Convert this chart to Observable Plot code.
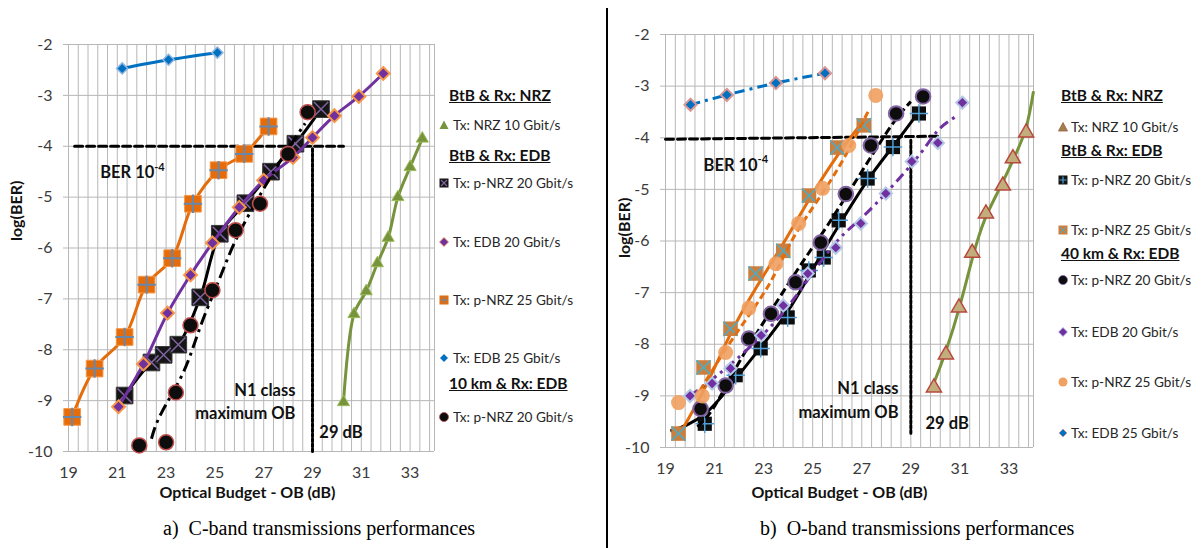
<!DOCTYPE html>
<html><head><meta charset="utf-8">
<script src="https://cdn.jsdelivr.net/npm/d3@7"></script>
<script src="https://cdn.jsdelivr.net/npm/@observablehq/plot@0.6"></script>
<style>
body{margin:0;background:#fff;font-family:Lato,"Open Sans",sans-serif;}
#wrap{position:relative;width:1202px;height:548px;overflow:hidden;background:#fff;}
#wrap svg{position:absolute;top:0;}
.cap{position:absolute;font-family:"Liberation Serif","Times New Roman",serif;font-size:20px;line-height:24px;color:#000;white-space:nowrap;}
.lt{position:absolute;font-size:13.6px;line-height:18px;color:#262626;white-space:nowrap;}
.lh{position:absolute;font-size:15.5px;line-height:20px;font-weight:bold;text-decoration:underline;white-space:nowrap;color:#111;}
.lm{position:absolute;}
#divider{position:absolute;left:606px;top:8px;width:2px;height:540px;background:#000;}
</style></head><body><div id="wrap"><div id="divider"></div></div>
<script>
// ---------- axis ticks ----------
const xTicks = [19, 21, 23, 25, 27, 29, 31, 33];
const yTicks = [-2, -3, -4, -5, -6, -7, -8, -9, -10];

// ---------- (a) C-band ----------
const cBtbNrz10   = [[30.27,-9.03],[30.7,-7.3],[31.2,-6.85],[31.66,-6.3],[32.1,-5.8],[32.5,-5.0],[33.0,-4.41],[33.5,-3.85]];
const cBtbPnrz20  = [[21.3,-8.9],[22.4,-8.25],[22.9,-8.1],[23.5,-7.9],[24.4,-6.97],[25.2,-5.72],[26.25,-5.12],[27.3,-4.5],[28.3,-3.95],[29.35,-3.27]];
const cBtbEdb20   = [[21.05,-9.12],[22.07,-8.28],[23.06,-7.28],[24.0,-6.53],[24.9,-5.9],[26.0,-5.2],[27.0,-4.67],[28.2,-4.22],[29.0,-3.83],[29.9,-3.4],[30.9,-3.02],[31.9,-2.57]];
const cBtbPnrz25  = [[19.15,-9.32],[20.07,-8.37],[21.3,-7.75],[22.2,-6.72],[23.25,-6.2],[24.1,-5.13],[25.15,-4.47],[26.2,-4.15],[27.2,-3.61]];
const cBtbEdb25   = [[21.2,-2.47],[23.1,-2.3],[25.1,-2.16]];
const c10kmPnrz20 = [[21.9,-9.88],[23.0,-9.82],[23.4,-8.84],[24.0,-7.52],[24.9,-6.83],[25.85,-5.65],[26.85,-5.13],[28.0,-4.15],[28.8,-3.33]];
const c10kmPnrz20Fit = [[22.4,-9.75],[22.8,-9.25],[23.7,-8.45],[24.4,-7.55],[25.15,-6.65],[25.85,-5.85],[26.8,-5.0],[27.8,-4.2],[28.7,-3.55]];
const cBerLine = [[19.25,-4],[30.27,-4]];
const cObLine  = [[29,-4.05],[29,-10]];

// ---------- (b) O-band ----------
const oBtbNrz10     = [[29.94,-8.84],[30.43,-8.2],[30.96,-7.29],[31.5,-6.23],[32.06,-5.47],[32.75,-4.93],[33.16,-4.4],[33.7,-3.9]];
const oBtbNrz10Fit  = [[29.9,-8.8],[30.45,-8.1],[31.0,-7.25],[31.5,-6.35],[32.0,-5.6],[32.6,-5.0],[33.2,-4.4],[33.7,-3.8],[34.0,-3.1]];
const oBtbPnrz20    = [[20.6,-9.54],[21.86,-8.6],[22.88,-8.08],[23.98,-7.48],[24.84,-6.57],[25.45,-6.32],[26.06,-5.6],[27.24,-4.79],[28.27,-4.18],[29.33,-3.53]];
const oBtbPnrz20Fit = [[19.2,-9.68],[20.6,-9.35],[21.9,-8.65],[22.9,-8.05],[24.0,-7.35],[25.0,-6.55],[26.0,-5.75],[27.2,-4.85],[28.3,-4.15],[29.4,-3.45]];
const oBtbPnrz25    = [[19.53,-9.73],[20.55,-8.45],[21.65,-7.7],[22.67,-6.63],[23.8,-6.19],[24.85,-5.12],[26.0,-4.19],[27.08,-3.76]];
const oBtbPnrz25Fit = [[19.45,-9.85],[20.6,-8.85],[21.65,-7.8],[22.7,-6.9],[23.8,-6.05],[24.85,-5.2],[26.0,-4.35],[27.1,-3.65]];
const o40Pnrz20     = [[20.43,-9.25],[21.45,-8.8],[22.4,-7.89],[23.3,-7.41],[24.3,-6.8],[25.33,-6.03],[26.35,-5.09],[27.37,-4.15],[28.4,-3.53],[29.5,-3.2]];
const o40Pnrz20Fit  = [[20.3,-9.6],[21.0,-9.2],[22.0,-8.35],[23.3,-7.35],[24.6,-6.4],[25.6,-5.7],[26.9,-4.73],[28.2,-3.77],[29.0,-3.3]];
const o40Edb20      = [[20.0,-9.0],[20.9,-8.76],[21.65,-8.47],[22.9,-7.83],[23.8,-7.25],[24.8,-6.63],[25.94,-6.13],[26.96,-5.66],[27.98,-5.08],[29.04,-4.46],[30.1,-4.1],[31.1,-3.32]];
const o40Edb20Fit   = [[20.0,-9.0],[21.5,-8.45],[23.4,-7.6],[24.8,-6.75],[26.0,-6.0],[27.0,-5.55],[28.2,-4.96],[29.4,-4.3],[30.1,-3.86],[30.8,-3.6]];
const o40Pnrz25     = [[19.53,-9.13],[20.5,-9.0],[21.45,-8.16],[22.4,-7.3],[23.5,-6.44],[24.43,-5.66],[25.4,-4.98],[26.47,-4.15],[27.57,-3.18]];
const o40Pnrz25Fit  = [[20.4,-8.9],[21.8,-7.85],[23.2,-6.86],[24.2,-5.95],[25.5,-5.0],[26.5,-4.2],[27.3,-3.45]];
const oBtbEdb25     = [[20.02,-3.36],[21.5,-3.17],[23.5,-2.94],[25.5,-2.75]];
const oBerLine = [[19,-4.03],[30.2,-3.97]];
const oObLine  = [[29,-4.05],[29,-9.75]];

// annotation anchors (data coords)
const cNotesStart = [{x:29.28, y:-9.64, t:"29 dB"}];
const cNotesEnd   = [{x:28.3, y:-8.8, t:"N1 class"},{x:28.3, y:-9.25, t:"maximum OB"}];
const cBer = [{x:20.3, y:-4.53}];
const oNotesStart = [{x:29.6, y:-9.54, t:"29 dB"}];
const oNotesEnd   = [{x:28.5, y:-8.86, t:"N1 class"},{x:28.5, y:-9.33, t:"maximum OB"}];
const oBer = [{x:20.55, y:-4.54}];

// ---------- helpers ----------
const pts = a => a.map(([x, y]) => ({x, y}));
const GRID = "#b7b7b7";
const minorX = d3.range(0, 38).map(i => +(19 + i * 0.4).toFixed(1)).concat([34]);

function lineMark(a, o) {
  return Plot.line(pts(a), {x: "x", y: "y", stroke: o.c, strokeWidth: o.w ?? 3, strokeDasharray: o.dash, curve: o.curve ?? "catmull-rom", strokeLinecap: "butt"});
}
function dotMarks(a, m) {
  const d = pts(a);
  const out = [Plot.dot(d, {x: "x", y: "y", symbol: m.s, r: m.r, fill: m.f, fillOpacity: m.fo ?? 1, stroke: m.st ?? "none", strokeWidth: m.sw ?? 1.5})];
  if (m.in) out.push(Plot.dot(d, {x: "x", y: "y", symbol: m.in, r: m.ir, stroke: m.ic, strokeWidth: m.iw ?? 1.5, fill: "none"}));
  return out;
}
function frameMarks(opt) {
  return [
    Plot.gridX(minorX, {stroke: GRID, strokeOpacity: 1}),
    Plot.gridY(yTicks, {stroke: GRID, strokeOpacity: 1}),
    Plot.axisY(yTicks, {tickSize: 5, stroke: GRID, tickPadding: 11, fontSize: 16, fill: "#3b3b3b", tickFormat: d => String(d), label: null}),
    Plot.axisX(xTicks, {tickSize: 0, tickPadding: 15, fontSize: 16, fill: "#3b3b3b", tickFormat: d => String(d), label: null}),
    Plot.text(["Optical Budget - OB (dB)"], {frameAnchor: "bottom", dy: opt.xdy, dx: opt.xdx, fontSize: 16, fontWeight: "bold", fill: "#111"}),
    Plot.text(["log(BER)"], {frameAnchor: "left", rotate: -90, dx: opt.ydx, dy: opt.ydy, fontSize: 16, fontWeight: "bold", fill: "#111"})
  ];
}
function noteMarks(starts, ends, ber) {
  const st = {fontSize: 16.5, fontWeight: "bold", fill: "#111"};
  return [
    Plot.text(starts, {x: "x", y: "y", text: "t", textAnchor: "start", ...st}),
    Plot.text(ends, {x: "x", y: "y", text: "t", textAnchor: "end", ...st}),
    Plot.text(ber, {x: "x", y: "y", text: () => "BER 10", textAnchor: "start", ...st}),
    Plot.text(ber, {x: "x", y: "y", text: () => "-4", textAnchor: "start", dx: 54, dy: -6, fontSize: 11, fontWeight: "bold", fill: "#111"})
  ];
}
const thr = (a, dash) => Plot.line(pts(a), {x: "x", y: "y", stroke: "#000", strokeWidth: 3, strokeDasharray: dash});

// ---------- left plot ----------
const left = Plot.plot({
  width: 440, height: 548,
  marginLeft: 68, marginRight: 6, marginTop: 44, marginBottom: 97,
  style: {fontFamily: "Lato, sans-serif", background: "transparent", overflow: "visible"},
  x: {domain: [19, 34]},
  y: {domain: [-10, -2]},
  marks: [
    ...frameMarks({xdy: 46, xdx: -4, ydx: -52, ydy: -7}),
    thr(cBerLine, "8,4"), thr(cObLine, "3,2"),
    lineMark(cBtbNrz10, {c: "#77933C"}),
    ...dotMarks(cBtbNrz10, {s: "triangle", r: 4.5, f: "#77933C", st: "#9BBB59", sw: 1}),
    lineMark(cBtbPnrz20, {c: "#000"}),
    ...dotMarks(cBtbPnrz20, {s: "square", r: 9.4, f: "#151515", st: "#3a3a3a", sw: 1, in: "times", ir: 6.5, ic: "#8064A2", iw: 1.5}),
    lineMark(cBtbEdb20, {c: "#7030A0"}),
    ...dotMarks(cBtbEdb20, {s: "diamond2", r: 5.8, f: "#7030A0", st: "#F79646", sw: 2}),
    lineMark(cBtbPnrz25, {c: "#E46C0A"}),
    ...dotMarks(cBtbPnrz25, {s: "square", r: 9.4, f: "#E46C0A", st: "#F79646", sw: 1, in: "plus", ir: 6, ic: "#6A86A8", iw: 2}),
    lineMark(cBtbEdb25, {c: "#0070C0"}),
    ...dotMarks(cBtbEdb25, {s: "diamond2", r: 5, f: "#0070C0", st: "#8DB4E2", sw: 1.5}),
    lineMark(c10kmPnrz20Fit, {c: "#000", dash: "12,5,3,5", curve: "natural"}),
    ...dotMarks(c10kmPnrz20, {s: "circle", r: 7.5, f: "#0d0d0d", st: "#C0504D", sw: 1.5}),
    ...noteMarks(cNotesStart, cNotesEnd, cBer)
  ]
});
left.style.left = "0px";

// ---------- right plot ----------
const right = Plot.plot({
  width: 429, height: 548,
  marginLeft: 57, marginRight: 4, marginTop: 34, marginBottom: 101,
  style: {fontFamily: "Lato, sans-serif", background: "transparent", overflow: "visible"},
  x: {domain: [19, 34]},
  y: {domain: [-10, -2]},
  marks: [
    ...frameMarks({xdy: 50, xdx: -10, ydx: -41, ydy: 17}),
    thr(oBerLine, "8,4"), thr(oObLine, "3,2"),
    lineMark(oBtbNrz10Fit, {c: "#77933C", curve: "natural"}),
    ...dotMarks(oBtbNrz10, {s: "triangle", r: 5.6, f: "#C2AE7C", st: "#B8473C", sw: 1.5}),
    lineMark(oBtbPnrz20Fit, {c: "#000", curve: "natural"}),
    ...dotMarks(oBtbPnrz20, {s: "square", r: 8, f: "#0d0d0d", in: "plus", ir: 6, ic: "#4F9FD6", iw: 1.5}),
    lineMark(oBtbPnrz25Fit, {c: "#E46C0A", curve: "natural"}),
    ...dotMarks(oBtbPnrz25, {s: "square", r: 8.2, f: "#CC7E3E", in: "times", ir: 6.5, ic: "#4BACC6", iw: 1.5}),
    lineMark(o40Pnrz20Fit, {c: "#000", dash: "8,4", curve: "natural"}),
    ...dotMarks(o40Pnrz20, {s: "circle", r: 7.3, f: "#0d0d0d", st: "#8064A2", sw: 2}),
    lineMark(o40Edb20Fit, {c: "#7030A0", dash: "10,5,3,5", curve: "natural"}),
    ...dotMarks(o40Edb20, {s: "diamond2", r: 5.5, f: "#7030A0", st: "#B4C7E7", sw: 2}),
    lineMark(o40Pnrz25Fit, {c: "#E46C0A", dash: "7,4", curve: "natural"}),
    ...dotMarks(o40Pnrz25, {s: "circle", r: 7.5, f: "#F0A060", fo: 0.9}),
    lineMark(oBtbEdb25, {c: "#0070C0", dash: "10,5,3,5"}),
    ...dotMarks(oBtbEdb25, {s: "diamond2", r: 5.5, f: "#0070C0", st: "#D99694", sw: 2}),
    ...noteMarks(oNotesStart, oNotesEnd, oBer)
  ]
});
right.style.left = "608px";

const wrap = document.getElementById("wrap");
wrap.appendChild(left);
wrap.appendChild(right);

// ---------- legends (HTML) ----------
const markerSvg = {
  triGreen: `<polygon points="5,0.5 9.5,9 0.5,9" fill="#77933C"/>`,
  triBrown: `<polygon points="5,0.5 9.5,9 0.5,9" fill="#A08050" stroke="#9a5a40" stroke-width="0.8"/>`,
  sqBlackX: `<rect x="0.5" y="0.5" width="9" height="9" fill="#151515"/><path d="M2,2L8,8M8,2L2,8" stroke="#8064A2" stroke-width="1.2"/>`,
  sqBlackP: `<rect x="0.5" y="0.5" width="9" height="9" fill="#151515"/><path d="M5,1.5V8.5M1.5,5H8.5" stroke="#4F9FD6" stroke-width="1.2"/>`,
  sqOrangeP: `<rect x="0.5" y="0.5" width="9" height="9" fill="#E46C0A"/><path d="M5,1.5V8.5M1.5,5H8.5" stroke="#6A86A8" stroke-width="1.2"/>`,
  sqOrangeX: `<rect x="0.5" y="0.5" width="9" height="9" fill="#CC7E3E"/><path d="M2,2L8,8M8,2L2,8" stroke="#4BACC6" stroke-width="1"/>`,
  diaPurple: `<polygon points="5,0.5 9.5,5 5,9.5 0.5,5" fill="#7030A0" stroke="#F79646" stroke-width="0.8"/>`,
  diaPurple2: `<polygon points="5,0.5 9.5,5 5,9.5 0.5,5" fill="#7030A0" stroke="#B4C7E7" stroke-width="0.8"/>`,
  diaBlue: `<polygon points="5,1 9,5 5,9 1,5" fill="#0070C0" stroke="#8DB4E2" stroke-width="0.8"/>`,
  diaBlue2: `<polygon points="5,1 9,5 5,9 1,5" fill="#0070C0" stroke="#D99694" stroke-width="0.8"/>`,
  cirBlack: `<circle cx="5" cy="5" r="4.5" fill="#0d0d0d" stroke="#C0504D" stroke-width="0.8"/>`,
  cirBlack2: `<circle cx="5" cy="5" r="4.5" fill="#0d0d0d" stroke="#8064A2" stroke-width="0.8"/>`,
  cirOrange: `<circle cx="5" cy="5" r="4.5" fill="#F0A060"/>`
};
const legendA = [
  {h: "BtB & Rx: NRZ", y: 95},
  {m: "triGreen", t: "Tx: NRZ 10 Gbit/s", y: 125},
  {h: "BtB & Rx: EDB", y: 155},
  {m: "sqBlackX", t: "Tx: p-NRZ 20 Gbit/s", y: 183},
  {m: "diaPurple", t: "Tx: EDB 20 Gbit/s", y: 242},
  {m: "sqOrangeP", t: "Tx: p-NRZ 25 Gbit/s", y: 300},
  {m: "diaBlue", t: "Tx: EDB 25 Gbit/s", y: 358},
  {h: "10 km & Rx: EDB", y: 383},
  {m: "cirBlack", t: "Tx: p-NRZ 20 Gbit/s", y: 417}
];
const legendB = [
  {h: "BtB & Rx: NRZ", y: 95},
  {m: "triBrown", t: "Tx: NRZ 10 Gbit/s", y: 127},
  {h: "BtB & Rx: EDB", y: 150},
  {m: "sqBlackP", t: "Tx: p-NRZ 20 Gbit/s", y: 180},
  {m: "sqOrangeX", t: "Tx: p-NRZ 25 Gbit/s", y: 230},
  {h: "40 km & Rx: EDB", y: 253},
  {m: "cirBlack2", t: "Tx: p-NRZ 20 Gbit/s", y: 280},
  {m: "diaPurple2", t: "Tx: EDB 20 Gbit/s", y: 332},
  {m: "cirOrange", t: "Tx: p-NRZ 25 Gbit/s", y: 382},
  {m: "diaBlue2", t: "Tx: EDB 25 Gbit/s", y: 433}
];
function drawLegend(items, hx, mx, tx) {
  for (const it of items) {
    if (it.h) {
      const d = document.createElement("div");
      d.className = "lh"; d.textContent = it.h;
      d.style.left = hx + "px"; d.style.top = (it.y - 10) + "px";
      wrap.appendChild(d);
    } else {
      const s = document.createElementNS("http://www.w3.org/2000/svg", "svg");
      s.setAttribute("class", "lm"); s.setAttribute("width", 10); s.setAttribute("height", 10);
      s.style.left = (mx - 5) + "px"; s.style.top = (it.y - 5) + "px";
      s.innerHTML = markerSvg[it.m];
      wrap.appendChild(s);
      const d = document.createElement("div");
      d.className = "lt"; d.textContent = it.t;
      d.style.left = tx + "px"; d.style.top = (it.y - 9) + "px";
      wrap.appendChild(d);
    }
  }
}
drawLegend(legendA, 449, 444, 453);
drawLegend(legendB, 1061, 1063, 1071);

// ---------- captions ----------
const captions = [{t: "a)\u00a0\u00a0C-band transmissions performances", x: 163}, {t: "b)\u00a0\u00a0O-band transmissions performances", x: 760}];
for (const c of captions) {
  const d = document.createElement("div");
  d.className = "cap"; d.textContent = c.t;
  d.style.left = c.x + "px"; d.style.top = "516px";
  wrap.appendChild(d);
}
</script></body></html>
